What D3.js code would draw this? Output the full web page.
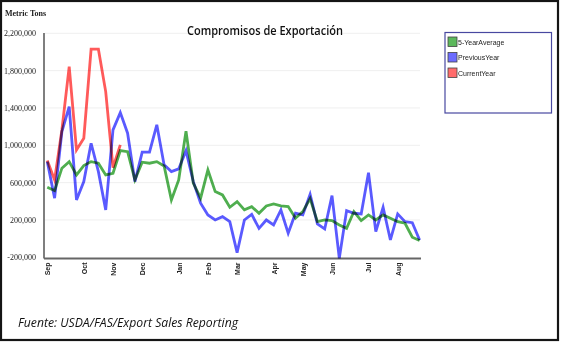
<!DOCTYPE html>
<html><head><meta charset="utf-8">
<script src="https://cdn.jsdelivr.net/npm/d3@7"></script>
<style>
html,body{margin:0;padding:0;background:#fff;}
svg{display:block;}
</style></head>
<body>
<script>
// ---- data (metric tons) ----
const seriesNames = ["5-YearAverage", "PreviousYear", "CurrentYear"];
const monthLabels = ["Sep","Oct","Nov","Dec","Jan","Feb","Mar","Apr","May","Jun","Jul","Aug"];
const monthWeekIndex = [0,5,9,13,18,22,26,31,35,39,44,48];
const yTicks = [-200000, 200000, 600000, 1000000, 1400000, 1800000, 2200000];
const fiveYearAverage = [551000,514000,755000,825000,683000,782000,825000,808000,683000,700000,
  943000,932000,629000,819000,808000,825000,779000,415000,629000,1150000,
  594000,433000,736000,504000,468000,336000,397000,308000,343000,272000,
  350000,372000,350000,343000,219000,290000,430000,182000,200000,193000,
  147000,110000,290000,193000,254000,200000,254000,219000,182000,165000,
  15000,-21000];
const previousYear = [825000,433000,1147000,1415000,415000,611000,1022000,718000,308000,1165000,
  1350000,1130000,611000,926000,926000,1219000,790000,718000,747000,943000,
  611000,380000,254000,200000,236000,182000,-150000,200000,260000,110000,
  200000,147000,307000,58000,272000,254000,475000,157000,104000,461000,
  -210000,300000,272000,265000,707000,75000,336000,-14000,265000,182000,
  171000,-14000];
const currentYear = [836000,629000,1165000,1843000,951000,1076000,2030000,2030000,1575000,760000,1004000];
const colors = ["#4fae4f", "#5a5aff", "#ff5a5a"];
const swatchFill = ["#5cb85c", "#6b6bff", "#ff6b6b"];

const W = 561, H = 342;
const svg = d3.select("body").append("svg").attr("width", W).attr("height", H);

// frame
svg.append("rect").attr("x",1).attr("y",1).attr("width",557).attr("height",339)
  .attr("fill","#fff").attr("stroke","#151515").attr("stroke-width",2.2);

const x = d3.scaleLinear().domain([0, 51]).range([47.3, 419.6]);
const y = d3.scaleLinear().domain([-200000, 2200000]).range([257.3, 33.3]);

// grid
svg.append("g").selectAll("line").data(yTicks.slice(1)).join("line")
  .attr("x1",45).attr("x2",420).attr("y1",d=>y(d)).attr("y2",d=>y(d))
  .attr("stroke","#efefef").attr("stroke-width",1);

// y axis
const fmt = d3.format(",d");
const yAxis = d3.axisLeft(y).tickValues(yTicks).tickSize(0).tickPadding(8)
  .tickFormat(d => fmt(d).replace("\u2212", "-"));
const gy = svg.append("g").attr("transform","translate(44,0)").call(yAxis);
gy.select(".domain").remove();
gy.selectAll("text").attr("font-family","Liberation Serif").attr("font-size","8px")
  .attr("fill","#222").attr("x",-8).attr("dy","0.32em");
svg.append("line").attr("x1",44).attr("x2",44).attr("y1",33).attr("y2",258.5)
  .attr("stroke","#555").attr("stroke-width",1.5);

// x axis
const xAxis = d3.axisBottom(x).tickValues(monthWeekIndex).tickSize(0)
  .tickFormat((d,i)=>monthLabels[i]);
const gx = svg.append("g").attr("transform","translate(0,258.5)").call(xAxis);
gx.select(".domain").remove();
gx.selectAll("text").attr("font-family","Liberation Sans").attr("font-weight","bold")
  .attr("font-size","7px").attr("fill","#222")
  .attr("transform","rotate(-90)").attr("text-anchor","end")
  .attr("x",-4).attr("y",0).attr("dy","0.35em");
svg.append("line").attr("x1",44).attr("x2",421).attr("y1",258.5).attr("y2",258.5)
  .attr("stroke","#666").attr("stroke-width",1.8);

// lines
const line = d3.line().x((d,i)=>x(i)).y(d=>y(d));
const allSeries = [fiveYearAverage, previousYear, currentYear];
svg.append("g").selectAll("path").data(allSeries).join("path")
  .attr("d", d=>line(d)).attr("fill","none")
  .attr("stroke",(d,i)=>colors[i]).attr("stroke-width",2.8)
  .attr("stroke-linejoin","miter").style("mix-blend-mode","multiply");

// title
svg.append("text").attr("x",265).attr("y",35).attr("text-anchor","middle")
  .attr("font-family","Open Sans").attr("font-weight",600).attr("font-size","12.5px")
  .attr("fill","#111").attr("textLength",156).attr("lengthAdjust","spacingAndGlyphs")
  .text("Compromisos de Exportación");

// metric tons
svg.append("text").attr("x",5).attr("y",16)
  .attr("font-family","Liberation Serif").attr("font-weight","bold").attr("font-size","8px")
  .attr("fill","#222").text("Metric Tons");

// legend
const lg = svg.append("g");
lg.append("rect").attr("x",445).attr("y",32.5).attr("width",106.5).attr("height",80.5)
  .attr("fill","#fff").attr("stroke","#4848a0").attr("stroke-width",1.2);
const items = lg.selectAll("g.item").data(seriesNames).join("g").attr("class","item")
  .attr("transform",(d,i)=>`translate(448,${37 + i*15.5})`);
items.append("rect").attr("width",9).attr("height",9.5)
  .attr("fill",(d,i)=>swatchFill[i]).attr("stroke","#444").attr("stroke-width",0.8);
items.append("text").attr("x",10).attr("y",7.5)
  .attr("font-family","Liberation Sans").attr("font-size","7px").attr("fill","#222")
  .text(d=>d);

// source
svg.append("text").attr("x",18).attr("y",327)
  .attr("font-family","Open Sans").attr("font-style","italic").attr("font-size","12.5px")
  .attr("fill","#111").attr("textLength",220).attr("lengthAdjust","spacingAndGlyphs")
  .text("Fuente: USDA/FAS/Export Sales Reporting");
</script>
</body></html>
